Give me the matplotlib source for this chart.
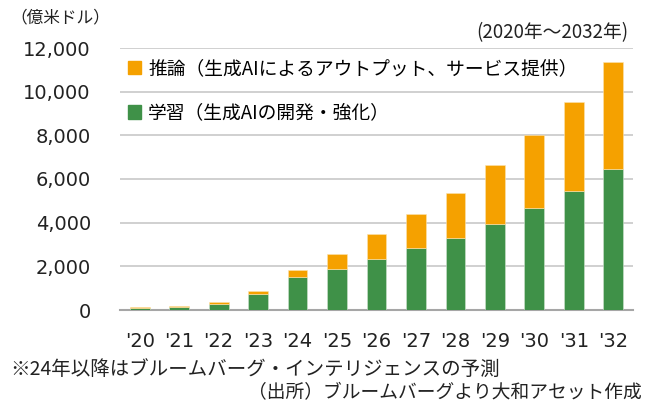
import numpy as np
import matplotlib.pyplot as plt
import matplotlib.patches as mpatches

years = ["'20", "'21", "'22", "'23", "'24", "'25", "'26", "'27", "'28", "'29", "'30", "'31", "'32"]
training = [90, 140, 290, 750, 1530, 1880, 2350, 2860, 3290, 3930, 4650, 5430, 6450]
total = [130, 190, 370, 860, 1850, 2580, 3490, 4400, 5380, 6650, 8000, 9510, 11340]
inference = [t - g for t, g in zip(total, training)]

orange = '#F5A100'
green = '#3F9148'
jp = ['Noto Sans CJK JP', 'DejaVu Sans']

fig = plt.figure(figsize=(6.56, 4.05), dpi=100)
ax = fig.add_axes([120/656, 1 - 310/405, 513/656, 262/405])

x = np.arange(len(years))
ax.bar(x, training, width=0.5, color=green, edgecolor='#cfe3cf', linewidth=0.4, zorder=3)
ax.bar(x, inference, width=0.5, bottom=training, color=orange, edgecolor='#fbe3b0', linewidth=0.4, zorder=3)

ax.set_xlim(-0.5, len(years) - 0.5)
ax.set_ylim(0, 12000)
ax.set_yticks(np.arange(0, 12001, 2000))
ax.set_yticklabels([f'{v:,}' for v in range(0, 12001, 2000)], fontsize=14, color='#222222')
ax.set_xticks(x)
ax.set_xticklabels(years, fontsize=14, color='#222222')
ax.tick_params(length=0)
ax.tick_params(axis='y', pad=21)
ax.tick_params(axis='x', pad=16)
ax.grid(axis='y', color='#c8c8c8', linewidth=1.2, zorder=0)
ax.set_axisbelow(True)
for s in ['top', 'right', 'left']:
    ax.spines[s].set_visible(False)
ax.spines['bottom'].set_color('#a6a6a6')
ax.spines['bottom'].set_linewidth(1.5)

h1 = mpatches.Patch(color=orange, label='推論（生成AIによるアウトプット、サービス提供）')
h2 = mpatches.Patch(color=green, label='学習（生成AIの開発・強化）')
leg = ax.legend(handles=[h1, h2], loc='upper left', bbox_to_anchor=(0.0, 0.99),
                frameon=False, prop={'family': jp, 'size': 13.5},
                handlelength=0.7, handleheight=0.7, handletextpad=0.4,
                labelspacing=1.25, borderaxespad=0)

fig.text(10/656, 1 - 18/405, '（億米ドル）', family=jp, fontsize=12, va='center', ha='left', color='#222222')
fig.text(628/656, 1 - 33/405, '(2020年～2032年)', family=jp, fontsize=13.5, va='center', ha='right', color='#222222')
fig.text(10/656, 1 - 370/405, '※24年以降はブルームバーグ・インテリジェンスの予測', family=jp, fontsize=14, va='center', ha='left', color='#222222')
fig.text(642/656, 1 - 393/405, '（出所）ブルームバーグより大和アセット作成', family=jp, fontsize=13.5, va='center', ha='right', color='#222222')

fig.savefig('out.png', dpi=100)
